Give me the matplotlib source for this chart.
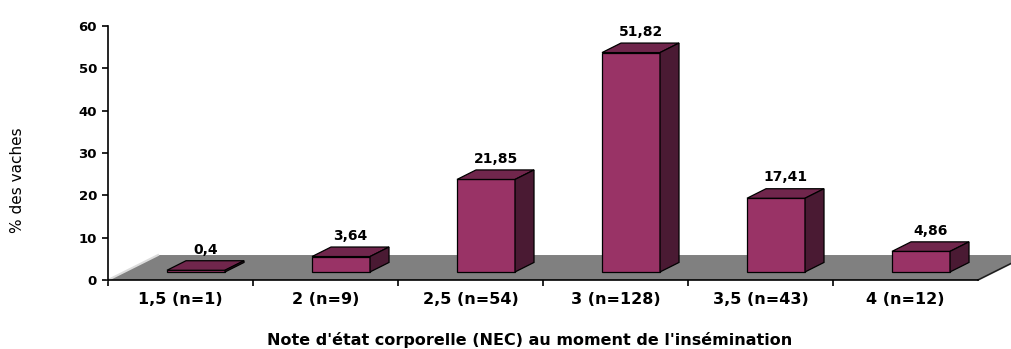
import matplotlib
matplotlib.use('Agg')
import matplotlib.pyplot as plt
from matplotlib.patches import Polygon, Rectangle

# NEC classes and share of cows in each class
categories = ['1,5 (n=1)', '2 (n=9)', '2,5 (n=54)', '3 (n=128)', '3,5 (n=43)', '4 (n=12)']
pourcentages = [0.4, 3.64, 21.85, 51.82, 17.41, 4.86]
etiquettes = ['0,4', '3,64', '21,85', '51,82', '17,41', '4,86']
graduations = [0, 10, 20, 30, 40, 50, 60]

plt.rcParams['font.family'] = ['DejaVu Sans']

fig = plt.figure(figsize=(10.11, 3.49), dpi=100)
ax = fig.add_axes([108 / 1011, 69 / 349, 870 / 1011, 254 / 349])
ax.set_xlim(0, 6)
ax.set_ylim(0, 60)

# pseudo-3d depth (floor and bars)
fdx, fdy = 0.345, 5.9
off_x, base, w = 0.107, 1.9, 0.40
sdx, sdy = 0.131, 2.25

face = '#993366'
dessus = '#70264C'
cote = '#4A1A33'

# grey floor
sol = Polygon([(0, 0), (6, 0), (6 + fdx, fdy), (fdx, fdy)], closed=True,
              facecolor='#808080', edgecolor='none', clip_on=False, zorder=1)
ax.add_patch(sol)
ax.plot([0, fdx], [0, fdy], color='#dcdcdc', lw=1.5, clip_on=False, zorder=2)
ax.plot([6, 6 + fdx], [0, fdy], color='#202020', lw=1.2, clip_on=False, zorder=2)

for i, v in enumerate(pourcentages):
    x0 = i + 0.5 + off_x - w / 2
    x1 = x0 + w
    y0 = base
    y1 = base + v
    ax.add_patch(Rectangle((x0, y0), w, v, facecolor=face, edgecolor='black',
                           lw=0.9, clip_on=False, zorder=4))
    ax.add_patch(Polygon([(x0, y1), (x1, y1), (x1 + sdx, y1 + sdy), (x0 + sdx, y1 + sdy)],
                         closed=True, facecolor=dessus, edgecolor='black',
                         lw=0.9, clip_on=False, zorder=4))
    ax.add_patch(Polygon([(x1, y0), (x1 + sdx, y0 + sdy), (x1 + sdx, y1 + sdy), (x1, y1)],
                         closed=True, facecolor=cote, edgecolor='black',
                         lw=0.9, clip_on=False, zorder=4))
    ax.text(x0 + w / 2 + sdx / 2, y1 + sdy + 1.0, etiquettes[i], ha='center',
            va='bottom', fontsize=10, fontweight='bold', zorder=5)

# axes
for s in ['top', 'right']:
    ax.spines[s].set_visible(False)
ax.spines['left'].set_linewidth(1.2)
ax.spines['bottom'].set_linewidth(1.2)
ax.spines['left'].set_zorder(6)
ax.spines['bottom'].set_zorder(6)

ax.set_yticks(graduations)
ax.set_yticklabels([str(g) for g in graduations], fontsize=9.5, fontweight='bold')
ax.tick_params(axis='y', length=4, width=1.2, pad=4)

ax.set_xticks(range(6))
ax.set_xticklabels([''] * 6)
ax.set_xticks([i + 0.5 for i in range(6)], minor=True)
ax.set_xticklabels(categories, minor=True, fontsize=11.5, fontweight='bold')
ax.tick_params(axis='x', which='major', length=4, width=1.2)
ax.tick_params(axis='x', which='minor', length=0, pad=9)

fig.text(530 / 1011, 1 - 340 / 349, "Note d'état corporelle (NEC) au moment de l'insémination",
         ha='center', va='center', fontsize=11.5, fontweight='bold')
fig.text(18 / 1011, 1 - 180 / 349, '% des vaches', rotation=90, ha='center',
         va='center', fontsize=11)

fig.savefig('out.png', dpi=100)
